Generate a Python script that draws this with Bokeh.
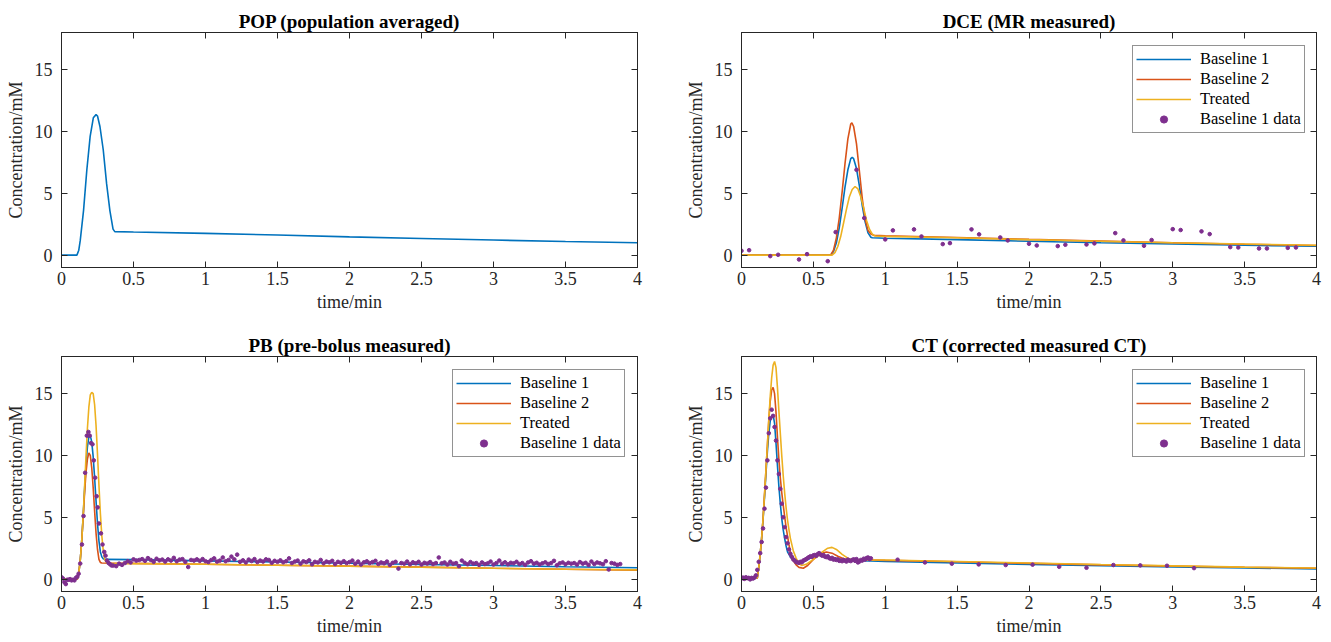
from bokeh.plotting import figure
from bokeh.layouts import column, row
from bokeh.models import Range1d, LinearAxis, FixedTicker, CustomJSTickFormatter
from bokeh.embed import file_html
from bokeh.resources import INLINE

# ---------------- data ----------------
x_ticks = [0, 0.5, 1, 1.5, 2, 2.5, 3, 3.5, 4]
y_ticks = [0, 5, 10, 15]

# POP (population averaged)
pop_t = [0, 0.107, 0.12, 0.13, 0.153, 0.176, 0.199, 0.221, 0.24, 0.25, 0.267, 0.29, 0.313, 0.336, 0.358, 0.37,
         0.5, 1.0, 1.5, 2.0, 2.5, 3.0, 3.5, 4.0]
pop_c = [0, 0, 0.4, 1.17, 3.6, 6.9, 9.6, 11.1, 11.36, 11.25, 10.4, 8.5, 5.8, 3.6, 2.1, 1.9,
         1.87, 1.76, 1.63, 1.48, 1.35, 1.22, 1.10, 1.0]

# DCE (MR measured)
dce_b1_t = [0, 0.62, 0.64, 0.66, 0.68, 0.70, 0.72, 0.74, 0.76, 0.77, 0.78, 0.80, 0.82, 0.84, 0.86, 0.88, 0.90, 0.91,
            1.0, 1.5, 2.0, 2.5, 3.0, 3.5, 4.0]
dce_b1_c = [0, 0, 0.3, 1.0, 2.2, 3.8, 5.5, 6.9, 7.8, 7.9, 7.8, 7.0, 5.6, 4.0, 2.7, 1.8, 1.45, 1.4,
            1.37, 1.25, 1.12, 1.0, 0.9, 0.8, 0.72]
dce_b2_t = [0, 0.62, 0.64, 0.66, 0.68, 0.70, 0.72, 0.74, 0.76, 0.768, 0.78, 0.80, 0.82, 0.84, 0.86, 0.88, 0.90, 0.92,
            1.0, 1.5, 2.0, 2.5, 3.0, 3.5, 4.0]
dce_b2_c = [0, 0, 0.4, 1.4, 3.0, 5.1, 7.4, 9.4, 10.6, 10.7, 10.4, 9.0, 6.8, 4.6, 2.9, 2.0, 1.7, 1.6,
            1.57, 1.42, 1.27, 1.13, 1.0, 0.88, 0.78]
dce_tr_t = [0, 0.63, 0.65, 0.67, 0.69, 0.71, 0.73, 0.75, 0.77, 0.79, 0.81, 0.83, 0.85, 0.87, 0.89, 0.91, 0.93,
            1.0, 1.5, 2.0, 2.5, 3.0, 3.5, 4.0]
dce_tr_c = [0, 0, 0.2, 0.7, 1.5, 2.6, 3.7, 4.7, 5.3, 5.55, 5.35, 4.7, 3.8, 2.8, 2.1, 1.7, 1.55,
            1.52, 1.4, 1.25, 1.12, 1.0, 0.9, 0.8]
dce_data_t = [0.0, 0.053, 0.2, 0.255, 0.4, 0.456, 0.6, 0.655, 0.8, 0.854, 1.0, 1.053, 1.2, 1.252, 1.4, 1.45,
              1.6, 1.653, 1.8, 1.852, 2.0, 2.054, 2.2, 2.253, 2.4, 2.455, 2.6, 2.657, 2.8, 2.853, 3.0, 3.055,
              3.2, 3.257, 3.4, 3.456, 3.6, 3.655, 3.8, 3.857]
dce_data_c = [0.35, 0.4, -0.08, 0.03, -0.35, 0.08, -0.49, 1.86, 6.9, 3.0, 1.27, 2.0, 2.08, 1.51, 0.89, 0.97,
              2.08, 1.68, 1.43, 1.19, 0.92, 0.78, 0.73, 0.84, 0.86, 0.95, 1.78, 1.19, 0.76, 1.22, 2.1, 2.03,
              1.92, 1.7, 0.65, 0.62, 0.54, 0.54, 0.59, 0.62]

# PB (pre-bolus measured)
pb_b1_t = [0, 0.11, 0.12, 0.13, 0.14, 0.15, 0.16, 0.17, 0.18, 0.19, 0.20, 0.21, 0.22, 0.23, 0.24, 0.25, 0.26, 0.27,
           0.28, 0.29, 0.30, 0.31, 0.5, 1.0, 1.5, 2.0, 2.5, 3.0, 3.5, 4.0]
pb_b1_c = [0, 0, 0.5, 1.5, 3.0, 5.0, 7.2, 9.2, 10.7, 11.5, 11.6, 11.1, 9.9, 8.2, 6.3, 4.5, 3.1, 2.2,
           1.8, 1.65, 1.6, 1.6, 1.58, 1.48, 1.38, 1.28, 1.18, 1.1, 1.0, 0.92]
pb_b2_t = [0, 0.11, 0.12, 0.13, 0.14, 0.15, 0.16, 0.17, 0.18, 0.19, 0.20, 0.21, 0.22, 0.23, 0.24, 0.25, 0.26, 0.27,
           0.28, 0.5, 1.0, 1.5, 2.0, 2.5, 3.0, 3.5, 4.0]
pb_b2_c = [0, 0, 0.5, 1.5, 3.0, 4.9, 6.9, 8.6, 9.7, 10.2, 10.0, 9.0, 7.4, 5.5, 3.7, 2.4, 1.6, 1.35,
           1.3, 1.27, 1.2, 1.12, 1.05, 0.97, 0.88, 0.8, 0.72]
pb_tr_t = [0, 0.11, 0.12, 0.13, 0.14, 0.15, 0.16, 0.17, 0.18, 0.19, 0.20, 0.21, 0.22, 0.23, 0.24, 0.25, 0.26, 0.27,
           0.28, 0.29, 0.30, 0.31, 0.32, 0.5, 1.0, 1.5, 2.0, 2.5, 3.0, 3.5, 4.0]
pb_tr_c = [0, 0, 0.5, 1.5, 3.0, 5.0, 7.4, 9.9, 12.2, 13.9, 14.9, 15.1, 15.0, 14.1, 12.4, 10.1, 7.6, 5.3,
           3.5, 2.3, 1.6, 1.35, 1.28, 1.25, 1.2, 1.12, 1.04, 0.96, 0.88, 0.8, 0.75]
pb_peak_t = [0.0, 0.01, 0.02, 0.03, 0.04, 0.05, 0.06, 0.07, 0.08, 0.09, 0.10, 0.11, 0.119, 0.13, 0.142, 0.153,
             0.164, 0.176, 0.187, 0.196, 0.205, 0.215, 0.224, 0.234, 0.244, 0.251, 0.26, 0.274, 0.285, 0.297,
             0.306, 0.316, 0.327, 0.338, 0.348]
pb_peak_c = [0.15, 0.05, -0.25, -0.4, -0.05, -0.05, 0.0, -0.1, -0.05, -0.1, 0.1, 0.2, 0.44, 1.26, 2.8, 5.1,
             8.6, 11.6, 11.9, 11.6, 11.0, 10.9, 9.6, 8.2, 6.7, 5.8, 4.5, 3.7, 2.8, 2.2,
             1.9, 1.5, 1.3, 1.2, 1.1]
# tail samples every 0.02 min starting at 0.36 min
pb_tail_c = [1.10, 1.05, 1.25, 1.15, 1.30, 1.45, 1.35, 1.60, 1.50, 1.55,
             1.62, 1.48, 1.70, 1.55, 1.40, 1.65, 1.52, 1.58, 1.42, 1.60,
             1.50, 1.72, 1.45, 1.58, 1.62, 1.40, 0.98, 1.55, 1.50, 1.60,
             1.48, 1.62, 1.45, 1.38, 1.55, 1.68, 1.42, 1.50, 1.75, 1.45,
             1.55, 1.82, 1.60, 1.98, 1.40, 1.52, 1.35, 1.58, 1.46, 1.62,
             1.38, 1.50, 1.42, 1.60, 1.55, 1.32, 1.48, 1.40, 1.52, 1.36,
             1.45, 1.68, 1.30, 1.42, 1.50, 1.25, 1.44, 1.38, 1.52, 1.20,
             1.40, 1.35, 1.55, 1.28, 1.42, 1.36, 1.48, 1.22, 1.40, 1.32,
             1.45, 1.30, 1.38, 1.50, 1.25, 1.42, 1.18, 1.36, 1.44, 1.30,
             1.38, 1.48, 1.22, 1.35, 1.28, 1.42, 1.15, 1.32, 1.40, 0.85,
             1.30, 1.25, 1.42, 1.20, 1.36, 1.28, 1.40, 1.18, 1.32, 1.26,
             1.38, 1.22, 1.30, 1.75, 1.28, 1.35, 1.18, 1.40, 1.25, 1.30,
             1.05, 1.50, 1.32, 1.20, 1.38, 1.25, 1.30, 1.15, 1.35, 1.22,
             1.28, 1.42, 1.18, 1.30, 1.50, 1.25, 1.36, 1.20, 1.32, 1.28,
             1.40, 1.22, 1.30, 1.15, 1.35, 1.45, 1.25, 1.32, 1.18, 1.28,
             1.36, 1.22, 1.30, 1.48, 1.12, 1.28, 1.35, 1.20, 1.32, 1.25,
             1.30, 1.18, 1.38, 1.25, 1.32, 1.15, 1.42, 1.22, 1.35, 1.28,
             1.20, 1.45, 0.78, 1.30, 1.25, 1.15, 1.22]
pb_tail_t = [round(0.36 + 0.02 * i, 2) for i in range(len(pb_tail_c))]

# CT (corrected measured CT)
ct_b1_t = [0, 0.11, 0.12, 0.13, 0.14, 0.15, 0.16, 0.17, 0.18, 0.19, 0.20, 0.21, 0.22, 0.23, 0.24, 0.25, 0.26, 0.27,
           0.28, 0.29, 0.30, 0.31, 0.32, 0.34, 0.36, 0.38, 0.40, 0.42, 0.45, 0.50, 0.54, 0.58, 0.62, 0.66, 0.70,
           0.80, 0.90, 1.0, 1.5, 2.0, 2.5, 3.0, 3.5, 4.0]
ct_b1_c = [0.05, 0.1, 0.9, 2.0, 3.3, 4.8, 6.6, 8.5, 10.3, 11.8, 12.8, 13.2, 13.3, 12.6, 11.0, 9.2, 7.5, 6.1,
           4.9, 4.0, 3.3, 2.7, 2.2, 1.8, 1.6, 1.45, 1.35, 1.35, 1.5, 1.85, 2.0, 1.9, 1.7, 1.55, 1.5,
           1.5, 1.47, 1.42, 1.3, 1.18, 1.08, 0.99, 0.9, 0.83]
ct_b2_t = [0, 0.11, 0.12, 0.13, 0.14, 0.15, 0.16, 0.17, 0.18, 0.19, 0.20, 0.21, 0.22, 0.23, 0.24, 0.25, 0.26, 0.27,
           0.28, 0.29, 0.30, 0.31, 0.32, 0.33, 0.34, 0.36, 0.38, 0.40, 0.43, 0.46, 0.50, 0.55, 0.59, 0.63, 0.67,
           0.72, 0.78, 0.90, 1.0, 1.5, 2.0, 2.5, 3.0, 3.5, 4.0]
ct_b2_c = [0.05, 0.1, 0.9, 2.0, 3.3, 4.9, 6.8, 8.8, 10.8, 12.9, 14.4, 15.3, 15.5, 15.0, 13.5, 11.5, 9.7, 8.2,
           7.0, 6.0, 5.1, 4.2, 3.5, 2.8, 2.2, 1.5, 1.15, 0.95, 0.88, 1.1, 1.6, 2.05, 2.2, 2.1, 1.85,
           1.6, 1.55, 1.55, 1.52, 1.4, 1.27, 1.15, 1.05, 0.96, 0.88]
ct_tr_t = [0, 0.11, 0.12, 0.13, 0.14, 0.15, 0.16, 0.17, 0.18, 0.19, 0.20, 0.21, 0.22, 0.23, 0.24, 0.25, 0.26, 0.27,
           0.28, 0.29, 0.30, 0.31, 0.32, 0.33, 0.34, 0.36, 0.38, 0.40, 0.42, 0.45, 0.50, 0.55, 0.60, 0.63, 0.66,
           0.70, 0.75, 0.80, 0.90, 1.0, 1.5, 2.0, 2.5, 3.0, 3.5, 4.0]
ct_tr_c = [0.05, 0.1, 0.9, 2.0, 3.3, 4.9, 6.8, 8.8, 10.8, 12.9, 14.8, 16.3, 17.3, 17.6, 17.1, 15.5, 13.6, 11.8,
           10.0, 8.4, 7.0, 5.8, 4.8, 4.0, 3.3, 2.3, 1.7, 1.25, 1.1, 1.2, 1.6, 2.1, 2.5, 2.57, 2.4,
           2.0, 1.62, 1.55, 1.55, 1.55, 1.43, 1.3, 1.18, 1.07, 0.97, 0.9]
# dense samples every 0.01 min from 0 to 0.90 min
ct_dense_c = [0.05, 0.12, 0.02, 0.15, 0.08, 0.10, -0.02, 0.10, 0.05, 0.12,
              0.30, 0.75, 1.40, 2.10, 3.00, 4.10, 5.70, 7.40, 9.60, 11.80,
              13.00, 13.70, 13.20, 12.30, 11.20, 9.60, 8.50, 7.30, 6.10, 5.00,
              4.20, 3.40, 2.90, 2.40, 2.05, 1.80, 1.60, 1.50, 1.38, 1.35,
              1.32, 1.40, 1.36, 1.50, 1.55, 1.62, 1.70, 1.78, 1.85, 1.80,
              1.92, 1.95, 1.88, 2.02, 2.10, 1.98, 1.90, 1.95, 1.82, 1.78,
              1.85, 1.70, 1.65, 1.72, 1.58, 1.62, 1.55, 1.60, 1.48, 1.52,
              1.45, 1.55, 1.50, 1.42, 1.58, 1.50, 1.46, 1.55, 1.60, 1.48,
              1.62, 1.35, 1.42, 1.55, 1.50, 1.65, 1.58, 1.70, 1.75, 1.62,
              1.68]
ct_dense_t = [round(0.01 * i, 2) for i in range(len(ct_dense_c))]
ct_sparse_t = [1.086, 1.276, 1.463, 1.65, 1.838, 2.025, 2.21, 2.4, 2.587, 2.774, 2.96, 3.148]
ct_sparse_c = [1.57, 1.35, 1.25, 1.19, 1.14, 1.17, 1.0, 0.92, 1.14, 1.11, 1.08, 0.89]

# ---------------- styling ----------------
FONT = "'Liberation Serif', 'Times New Roman', serif"
C_B1, C_B2, C_TR, C_DATA = "#0072BD", "#D95319", "#EDB120", "#7E2F8E"
AX = "#262626"
LW = 1.6

FRAME_W, FRAME_H = 576, 235


def make_panel(title, left, right, top, bottom, fw=FRAME_W):
    p = figure(width=left + fw + right, height=top + FRAME_H + bottom, title=title,
               x_range=Range1d(0, 4), y_range=Range1d(-1, 18),
               output_backend="svg", toolbar_location=None,
               min_border_left=left, min_border_right=right,
               min_border_top=top, min_border_bottom=bottom)
    p.grid.visible = False
    p.outline_line_color = AX
    p.outline_line_width = 1
    p.background_fill_color = "white"
    p.border_fill_color = "white"

    rax = LinearAxis()
    tax = LinearAxis()
    p.add_layout(rax, "right")
    p.add_layout(tax, "above")

    xa = p.below[0]
    ya = p.left[0]
    xa.axis_label = "time/min"
    ya.axis_label = "Concentration/mM"
    for ax in (xa, tax):
        ax.ticker = FixedTicker(ticks=x_ticks)
    for ax in (ya, rax):
        ax.ticker = FixedTicker(ticks=y_ticks)
    for ax in (xa, ya, rax, tax):
        ax.axis_line_color = AX
        ax.axis_line_width = 1
        ax.major_tick_line_color = AX
        ax.major_tick_line_width = 1
        ax.major_tick_in = 6
        ax.major_tick_out = 0
        ax.minor_tick_line_color = None
        ax.major_label_text_font = FONT
        ax.major_label_text_font_size = "18px"
        ax.major_label_text_color = AX
        ax.axis_label_text_font = FONT
        ax.axis_label_text_font_size = "18px"
        ax.axis_label_text_font_style = "normal"
        ax.axis_label_text_color = AX
        ax.formatter = CustomJSTickFormatter(code="return String(tick)")
    for ax in (rax, tax):
        ax.formatter = CustomJSTickFormatter(code="return ''")
        ax.major_label_text_font_size = "0px"
        ax.major_label_standoff = 0
    xa.major_label_standoff = 4
    xa.axis_label_standoff = 4
    ya.major_label_standoff = 9
    ya.axis_label_standoff = 6

    p.title.text_font = FONT
    p.title.text_font_size = "19px"
    p.title.text_font_style = "bold"
    p.title.text_color = "black"
    p.title.align = "center"
    p.title.standoff = 2
    return p


def style_legend(p):
    lg = p.legend[0]
    lg.location = (391, 134)
    lg.margin = 0
    lg.padding = 3
    lg.spacing = 0
    lg.glyph_width = 55
    lg.glyph_height = 18
    lg.label_height = 18
    lg.label_standoff = 9
    lg.label_text_font = FONT
    lg.label_text_font_size = "16.5px"
    lg.label_text_color = "black"
    lg.border_line_color = AX
    lg.border_line_width = 1.5
    lg.background_fill_color = "white"
    lg.background_fill_alpha = 1


def add_models(p, b1, b2, tr, data_list):
    p.line(b1[0], b1[1], color=C_B1, line_width=LW, legend_label="Baseline 1")
    p.line(b2[0], b2[1], color=C_B2, line_width=LW, legend_label="Baseline 2")
    p.line(tr[0], tr[1], color=C_TR, line_width=LW, legend_label="Treated")
    for (tt, cc) in data_list:
        p.scatter(tt, cc, size=3.6, marker="circle", fill_color=C_DATA, line_color=C_DATA,
                  legend_label="Baseline 1 data")
    style_legend(p)


L1, R1, L2, R2 = 61, 20, 84, 13
T1, B1, T2, B2 = 32, 63, 26, 50

p1 = make_panel("POP (population averaged)", L1, R1, T1, B1)
p1.line(pop_t, pop_c, color=C_B1, line_width=LW)

p2 = make_panel("DCE (MR measured)", L2, R2, T1, B1, fw=575)
add_models(p2, (dce_b1_t, dce_b1_c), (dce_b2_t, dce_b2_c), (dce_tr_t, dce_tr_c),
           [(dce_data_t, dce_data_c)])

p3 = make_panel("PB (pre-bolus measured)", L1, R1, T2, B2)
add_models(p3, (pb_b1_t, pb_b1_c), (pb_b2_t, pb_b2_c), (pb_tr_t, pb_tr_c),
           [(pb_peak_t + pb_tail_t, pb_peak_c + pb_tail_c)])

p4 = make_panel("CT (corrected measured CT)", L2, R2, T2, B2, fw=575)
add_models(p4, (ct_b1_t, ct_b1_c), (ct_b2_t, ct_b2_c), (ct_tr_t, ct_tr_c),
           [(ct_dense_t + ct_sparse_t, ct_dense_c + ct_sparse_c)])

layout = column(row(p1, p2), row(p3, p4))

open("out.html", "w").write(file_html(layout, INLINE))
